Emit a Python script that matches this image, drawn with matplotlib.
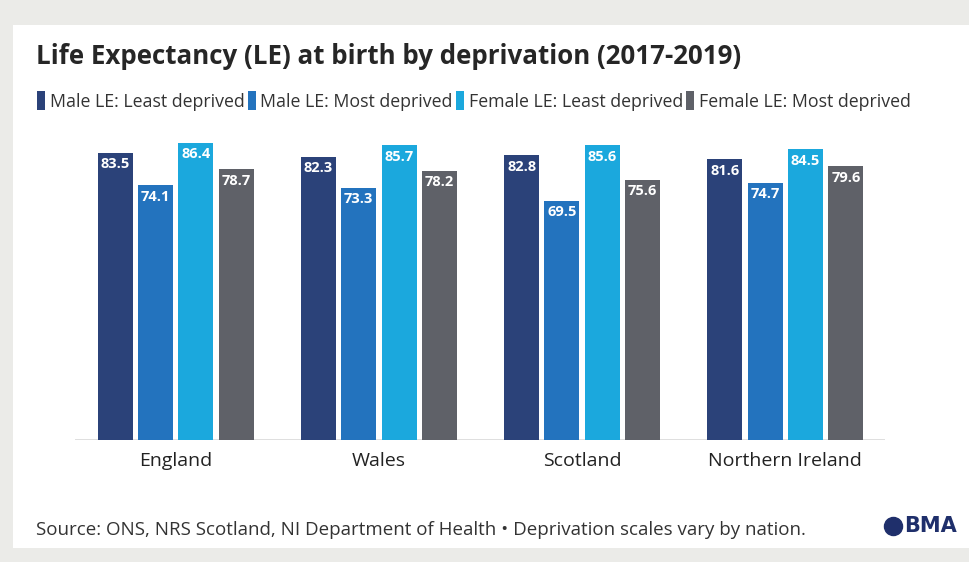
import matplotlib.pyplot as plt
from matplotlib.patches import Rectangle
from matplotlib.lines import Line2D
import numpy as np

nations = ['England', 'Wales', 'Scotland', 'Northern Ireland']
series = ['Male LE: Least deprived', 'Male LE: Most deprived',
          'Female LE: Least deprived', 'Female LE: Most deprived']
male_least = [83.5, 82.3, 82.8, 81.6]
male_most = [74.1, 73.3, 69.5, 74.7]
female_least = [86.4, 85.7, 85.6, 84.5]
female_most = [78.7, 78.2, 75.6, 79.6]
colours = ['#2b4279', '#2373be', '#1ba8dd', '#5f6168']

values = [male_least, male_most, female_least, female_most]

fig = plt.figure(figsize=(9.7, 5.62), dpi=100, facecolor='#ebebe8')
# white card
fig.add_artist(Rectangle((13/970, 14/562), 1, 523/562, transform=fig.transFigure,
                         facecolor='white', edgecolor='none', zorder=-5))

ax = fig.add_axes([75/970, 122/562, 810/970, 310/562])
ax.set_facecolor('none')

x = np.arange(len(nations))
w = 0.172
step = 0.1985
handles = []
for i, (vals, c) in enumerate(zip(values, colours)):
    pos = x + (i - 1.5) * step
    b = ax.bar(pos, vals, width=w, color=c, zorder=2)
    handles.append(b)
    for p, v in zip(pos, vals):
        ax.text(p, v - 1.3, f'{v:.1f}', ha='center', va='top', color='white',
                fontsize=10.5, fontweight='bold', family='Open Sans', zorder=3)

ax.set_ylim(0, 90.1)
ax.set_xlim(-0.495, 3.49)
ax.axhline(0, color='#d9d9d9', lw=1.2, zorder=1)
for s in ax.spines.values():
    s.set_visible(False)
ax.set_yticks([])
ax.set_xticks(x)
ax.set_xticklabels(nations, fontsize=14, color='#222222', family='Open Sans')
ax.tick_params(axis='x', length=0, pad=9)

fig.text(36/970, 1 - 56/562, 'Life Expectancy (LE) at birth by deprivation (2017-2019)',
         fontsize=18.6, fontweight='bold', color='#262626', family='Open Sans', va='center')

leg = fig.legend(handles, series, loc='center left', bbox_to_anchor=(30/970, 1 - 101/562),
                 ncol=4, frameon=False, fontsize=12.8, handlelength=0.45, handleheight=1.2,
                 handletextpad=0.25, columnspacing=0.2, borderaxespad=0)
for t in leg.get_texts():
    t.set_color('#333333')
    t.set_family('Open Sans')

fig.text(36/970, 1 - 530/562,
         'Source: ONS, NRS Scotland, NI Department of Health \u2022 Deprivation scales vary by nation.',
         fontsize=13.5, color='#333333', family='Open Sans', va='center')

# BMA logo
fig.add_artist(Line2D([893/970], [1 - 526/562], marker='o', markersize=13,
                      color='#1f2f6b', transform=fig.transFigure))
fig.text(904/970, 1 - 526/562, 'BMA', fontsize=15, fontweight='bold', color='#1f2f6b',
         va='center', ha='left', family='DejaVu Sans')

fig.savefig('out.png', dpi=100, facecolor=fig.get_facecolor())
